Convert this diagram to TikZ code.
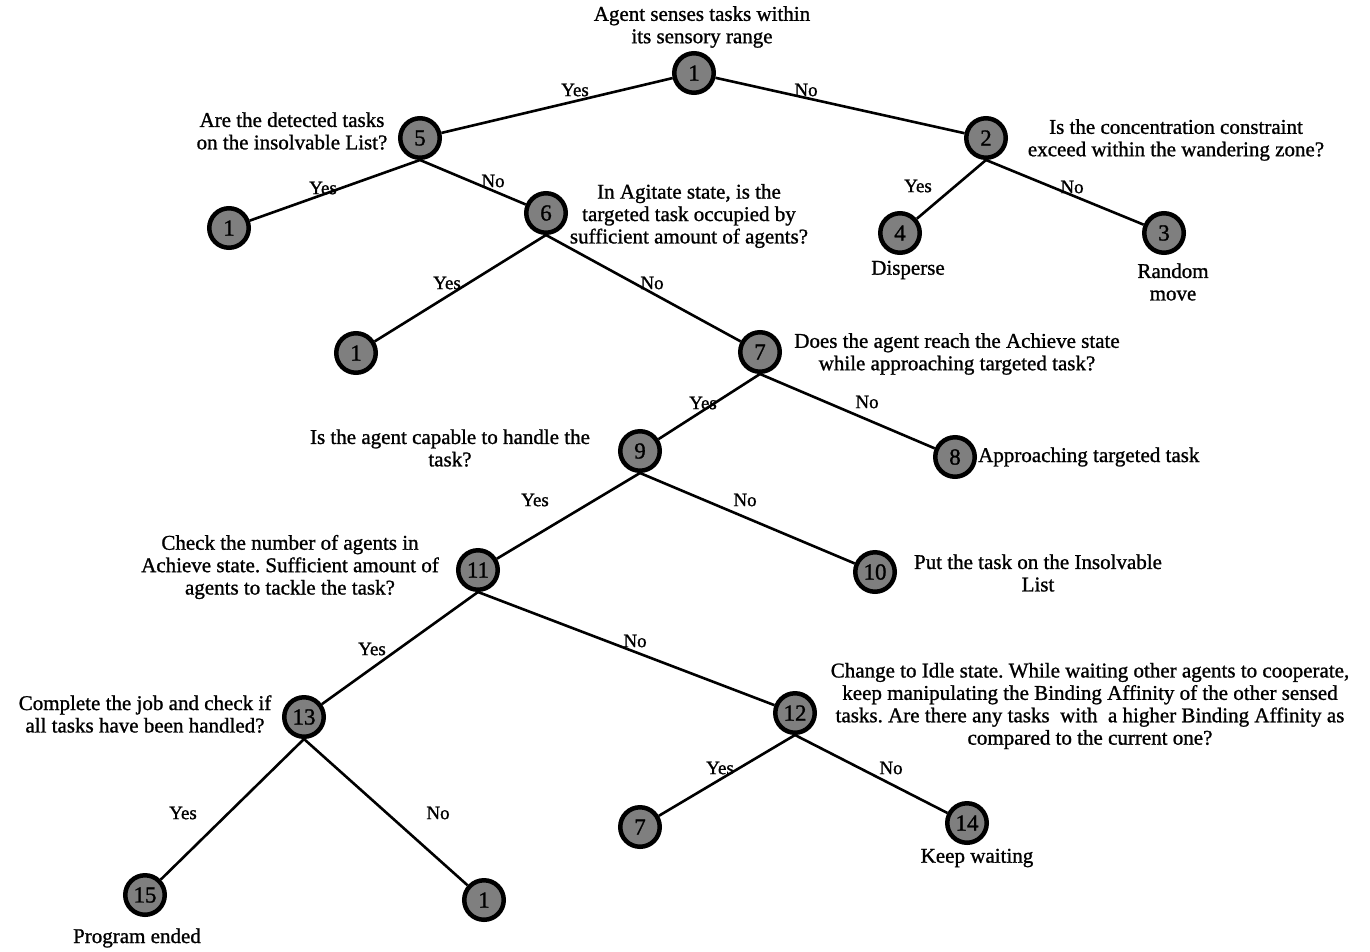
\documentclass[tikz,border=0pt]{standalone}
\usepackage{fontspec}
\setmainfont{Liberation Serif}
\newfontfamily\heavyserif{Liberation Serif}[FakeBold=1.1]
\definecolor{statefill}{HTML}{7F7F7F}
\begin{document}
\frenchspacing
\begin{tikzpicture}[x=1pt,y=-1pt,
  state/.style={circle,draw=black,line width=4.5pt,fill=statefill,
    minimum size=39.5pt,inner sep=0pt,font=\heavyserif\fontsize{23}{24}\selectfont},
  note/.style={align=center,inner sep=0pt,font=\heavyserif\fontsize{21}{22.4}\selectfont},
  ans/.style={inner sep=0pt,font=\heavyserif\fontsize{19}{20}\selectfont},
  branch/.style={line width=2.6pt}]
\useasboundingbox (0,0) rectangle (1370,951);

% decision states
\node[state] (s1)  at (694,73)  {1};
\node[state] (s5)  at (420,138) {5};
\node[state] (s2)  at (986,138) {2};
\node[state] (s1a) at (229,228) {1};
\node[state] (s6)  at (546,213) {6};
\node[state] (s4)  at (900,233) {4};
\node[state] (s3)  at (1164,233) {3};
\node[state] (s1b) at (356,353) {1};
\node[state] (s7)  at (760,352) {7};
\node[state] (s9)  at (640,451) {9};
\node[state] (s8)  at (955,457) {8};
\node[state] (s11) at (478,570) {11};
\node[state] (s10) at (875,572) {10};
\node[state] (s13) at (304,717) {13};
\node[state] (s12) at (795,713) {12};
\node[state] (s7b) at (640,827) {7};
\node[state] (s14) at (967,823) {14};
\node[state] (s15) at (145,895) {15};
\node[state] (s1c) at (484,900) {1};

% branches
\draw[branch] (s1) -- (s5);
\draw[branch] (s1) -- (s2);
\draw[branch] (s5.south) -- (s1a);
\draw[branch] (s5.south) -- (s6);
\draw[branch] (s2.south) -- (s4);
\draw[branch] (s2.south) -- (s3);
\draw[branch] (s6.south) -- (s1b);
\draw[branch] (s6.south) -- (s7);
\draw[branch] (s7.south) -- (s9);
\draw[branch] (s7.south) -- (s8);
\draw[branch] (s9.south) -- (s11);
\draw[branch] (s9.south) -- (s10);
\draw[branch] (s11.south) -- (s13);
\draw[branch] (s11.south) -- (s12);
\draw[branch] (s13.south) -- (s15);
\draw[branch] (s13.south) -- (s1c);
\draw[branch] (s12.south) -- (s7b);
\draw[branch] (s12.south) -- (s14);

% answers on the branches
\node[ans] (y1)  at (575,90)  {Yes};
\node[ans] (n1)  at (806,90)  {No};
\node[ans] (y5)  at (323,188) {Yes};
\node[ans] (n5)  at (493,181) {No};
\node[ans] (y2)  at (918,186) {Yes};
\node[ans] (n2)  at (1072,187) {No};
\node[ans] (y6)  at (447,283) {Yes};
\node[ans] (n6)  at (652,283) {No};
\node[ans] (y7)  at (703,403) {Yes};
\node[ans] (n7)  at (867,402) {No};
\node[ans] (y9)  at (535,500) {Yes};
\node[ans] (n9)  at (745,500) {No};
\node[ans] (y11) at (372,649) {Yes};
\node[ans] (n11) at (635,641) {No};
\node[ans] (y13) at (183,813) {Yes};
\node[ans] (n13) at (438,813) {No};
\node[ans] (y12) at (720,768) {Yes};
\node[ans] (n12) at (891,768) {No};

% questions and outcomes
\node[note] (q1)  at (702,27)  {Agent senses tasks within\\its sensory range};
\node[note] (q5)  at (292,131) {Are the detected tasks\\on the insolvable List?};
\node[note] (q2)  at (1176,140) {Is the concentration constraint\\exceed within the wandering zone?};
\node[note] (q6)  at (689,216) {In Agitate state, is the\\targeted task occupied by\\sufficient amount of agents?};
\node[note] (o4)  at (908,270) {Disperse};
\node[note] (o3)  at (1173,282) {Random\\move};
\node[note] (q7)  at (957,354) {Does the agent reach the Achieve state\\while approaching targeted task?};
\node[note] (q9)  at (450,448) {Is the agent capable to handle the\\task?};
\node[note,anchor=west] (o8) at (978,457) {Approaching targeted task};
\node[note] (q11) at (290,567) {Check the number of agents in\\Achieve state. Sufficient amount of\\agents to tackle the task?};
\node[note] (o10) at (1038,573) {Put the task on the Insolvable\\List};
\node[note] (q13) at (145,714) {Complete the job and check if\\all tasks have been handled?};
\node[note] (q12) at (1090,706) {Change to Idle state. While waiting other agents to cooperate,\\keep manipulating the Binding Affinity of the other sensed\\tasks. Are there any tasks\ \ with\ \ a higher Binding Affinity as\\compared to the current one?};
\node[note] (o14) at (977,858) {Keep waiting};
\node[note] (o15) at (137,938) {Program ended};
\end{tikzpicture}
\end{document}
